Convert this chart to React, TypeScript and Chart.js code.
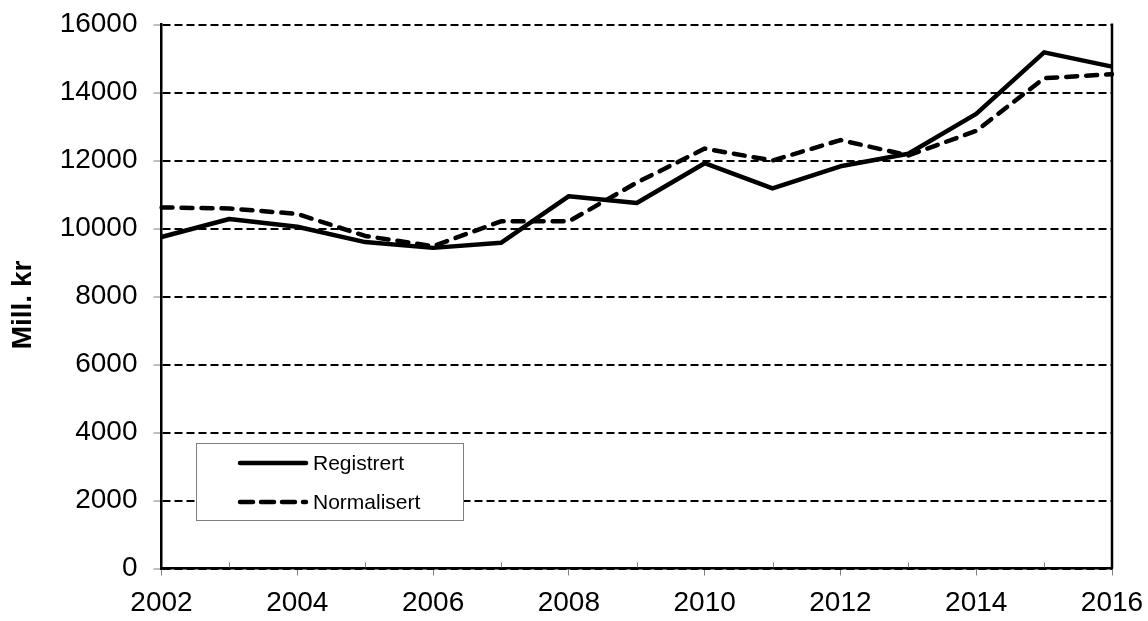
import React, { useEffect, useRef } from 'react';
import { Chart, registerables } from 'chart.js';

Chart.register(...registerables);

const years = ['2002', '2003', '2004', '2005', '2006', '2007', '2008', '2009', '2010', '2011', '2012', '2013', '2014', '2015', '2016'];
const registrert = [9750, 10280, 10050, 9600, 9430, 9580, 10950, 10750, 11920, 11180, 11830, 12200, 13370, 15180, 14760];
const normalisert = [10620, 10590, 10430, 9780, 9480, 10210, 10210, 11350, 12350, 12000, 12600, 12150, 12870, 14420, 14540];
const seriesLabels = ['Registrert', 'Normalisert'];
const yAxisTitle = 'Mill. kr';
const yMin = 0;
const yMax = 16000;
const yStep = 2000;

const FONT = '"Liberation Sans", Arial, sans-serif';

const decorPlugin = {
  id: 'decor',
  afterDraw(chart: any) {
    const { ctx, chartArea } = chart;
    const xs = chart.scales.x;
    ctx.save();
    // right frame line
    ctx.strokeStyle = '#000';
    ctx.lineWidth = 2.5;
    ctx.beginPath();
    ctx.moveTo(chartArea.right, chartArea.top - 1);
    ctx.lineTo(chartArea.right, chartArea.bottom);
    ctx.stroke();
    // inner minor ticks on odd years
    ctx.strokeStyle = '#808080';
    ctx.lineWidth = 1;
    for (let i = 1; i < years.length; i += 2) {
      const x = Math.round(xs.getPixelForValue(i)) + 0.5;
      ctx.beginPath();
      ctx.moveTo(x, chartArea.bottom - 6);
      ctx.lineTo(x, chartArea.bottom - 1);
      ctx.stroke();
    }
    // y-axis title
    ctx.save();
    ctx.translate(23, 305);
    ctx.rotate(-Math.PI / 2);
    ctx.font = `bold 28px ${FONT}`;
    ctx.fillStyle = '#000';
    ctx.textAlign = 'center';
    ctx.textBaseline = 'middle';
    ctx.fillText(yAxisTitle, 0, 0);
    ctx.restore();
    // legend box
    const bx = 196.5, by = 443.5, bw = 267, bh = 77;
    ctx.fillStyle = '#fff';
    ctx.fillRect(bx, by, bw, bh);
    ctx.strokeStyle = '#808080';
    ctx.lineWidth = 1;
    ctx.strokeRect(bx, by, bw, bh);
    const rows = [463, 502];
    chart.data.datasets.forEach((ds: any, i: number) => {
      const y = rows[i];
      ctx.strokeStyle = '#000';
      ctx.lineWidth = 4.5;
      ctx.lineCap = 'round';
      ctx.setLineDash(ds.borderDash ? [13, 8] : []);
      ctx.beginPath();
      ctx.moveTo(240, y);
      ctx.lineTo(306, y);
      ctx.stroke();
      ctx.setLineDash([]);
      ctx.fillStyle = '#000';
      ctx.font = `21px ${FONT}`;
      ctx.textAlign = 'left';
      ctx.textBaseline = 'middle';
      ctx.fillText(ds.label, 313, y + 1);
    });
    ctx.restore();
  },
};

export default function App() {
  const ref = useRef<HTMLCanvasElement>(null);
  useEffect(() => {
    document.body.style.margin = '0';
    const canvas = ref.current!;
    const chart = new Chart(canvas, {
      type: 'line',
      data: {
        labels: years,
        datasets: [
          {
            label: seriesLabels[0],
            data: registrert,
            borderColor: '#000',
            borderWidth: 4.5,
            pointRadius: 0,
            tension: 0,
            fill: false,
            borderJoinStyle: 'round',
          },
          {
            label: seriesLabels[1],
            data: normalisert,
            borderColor: '#000',
            borderWidth: 4.5,
            borderDash: [11, 9],
            borderCapStyle: 'round',
            pointRadius: 0,
            tension: 0,
            fill: false,
            borderJoinStyle: 'round',
          },
        ],
      },
      options: {
        responsive: false,
        animation: false,
        devicePixelRatio: 1,
        layout: { padding: { top: 24.5, right: 36, bottom: 0, left: 0 } },
        plugins: { legend: { display: false }, tooltip: { enabled: false } },
        scales: {
          x: {
            type: 'category',
            offset: false,
            grid: {
              display: true,
              drawOnChartArea: false,
              drawTicks: true,
              tickLength: 7,
              tickWidth: 1,
              tickColor: (c: any) => (c.index % 2 === 0 ? '#808080' : 'rgba(0,0,0,0)'),
            },
            border: { display: true, color: '#000', width: 2.5 },
            ticks: {
              autoSkip: false,
              maxRotation: 0,
              minRotation: 0,
              padding: 11,
              color: '#000',
              font: { family: FONT, size: 28 },
              callback: (_v: any, i: number) => (i % 2 === 0 ? years[i] : ''),
            },
            afterFit: (s: any) => {
              s.height = 52.5;
              s.paddingLeft = 0;
              s.paddingRight = 0;
            },
          },
          y: {
            min: yMin,
            max: yMax,
            grid: {
              color: '#000',
              lineWidth: 2,
              tickColor: '#808080',
              tickLength: 8,
              tickWidth: 1,
            },
            border: { display: true, color: '#000', width: 2.5, dash: [8, 4] },
            ticks: {
              stepSize: yStep,
              padding: 16,
              color: '#000',
              font: { family: FONT, size: 28 },
              callback: (v: any) => String(v),
            },
            afterFit: (s: any) => {
              s.width = 161.5;
              s.paddingTop = 0;
              s.paddingBottom = 0;
            },
          },
        },
      },
      plugins: [decorPlugin],
    } as any);
    return () => chart.destroy();
  }, []);
  return (
    <div style={{ width: 1148, height: 621 }}>
      <canvas ref={ref} width={1148} height={621} style={{ display: 'block', width: 1148, height: 621 }} />
    </div>
  );
}
